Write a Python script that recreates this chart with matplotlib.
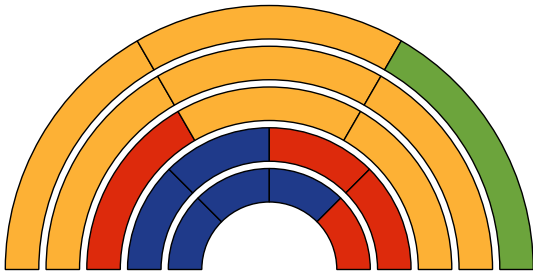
import matplotlib
matplotlib.use("Agg")
import matplotlib.pyplot as plt
from matplotlib.patches import Wedge

# rings from inner to outer, segments listed left (180 deg) to right (0 deg)
ring1 = ["blue", "blue", "blue", "red"]
ring2 = ["blue", "blue", "red", "red"]
ring3 = ["red", "yellow", "yellow"]
ring4 = ["yellow", "yellow", "yellow"]
ring5 = ["yellow", "yellow", "green"]
rings = [ring1, ring2, ring3, ring4, ring5]

colors = {
    "yellow": "#FDB135",
    "red": "#DD2A0C",
    "blue": "#1F3A8A",
    "green": "#6CA43C",
}

fig = plt.figure(figsize=(5.33, 2.72), dpi=100)
ax = fig.add_axes([0, 0, 1, 1])
ax.set_xlim(0, 533)
ax.set_ylim(0, 272)
ax.set_aspect("equal")
ax.axis("off")

cx, cy = 269.3, 2.5
r0 = 101
step = 40.75
width = 33.5

for i, ring in enumerate(rings):
    r = r0 + i * step
    n = len(ring)
    for j, party in enumerate(ring):
        t2 = 180 - j * 180 / n
        t1 = 180 - (j + 1) * 180 / n
        ax.add_patch(Wedge((cx, cy), r, t1, t2, width=width,
                           facecolor=colors[party], edgecolor="black", lw=1.0))

fig.savefig("out.png", dpi=100)
